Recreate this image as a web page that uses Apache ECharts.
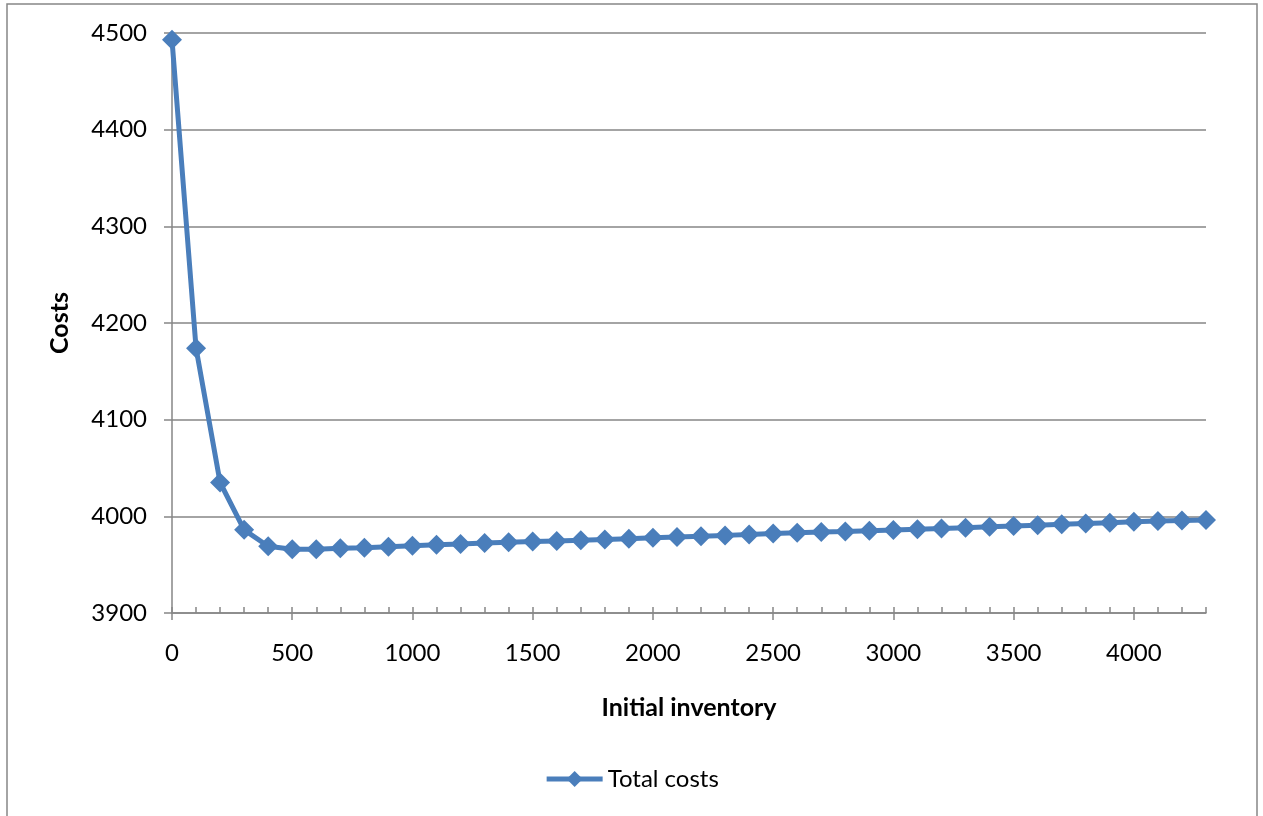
<!DOCTYPE html>
<html>
<head>
<meta charset="utf-8">
<script src="https://cdn.jsdelivr.net/npm/echarts@6/dist/echarts.min.js"></script>
<style>
  html, body { margin: 0; padding: 0; background: #fff; }
  #chart { width: 1263px; height: 816px; }
</style>
</head>
<body>
<div id="chart"></div>
<script>
// initial inventory levels (x) and total costs
const inventory = [0, 100, 200, 300, 400, 500, 600, 700, 800, 900,
  1000, 1100, 1200, 1300, 1400, 1500, 1600, 1700, 1800, 1900,
  2000, 2100, 2200, 2300, 2400, 2500, 2600, 2700, 2800, 2900,
  3000, 3100, 3200, 3300, 3400, 3500, 3600, 3700, 3800, 3900,
  4000, 4100, 4200, 4300]
const totalCosts = [4493, 4174, 4035, 3986, 3969, 3966, 3966, 3967, 3967.5, 3968.5,
  3969.5, 3970.5, 3971.5, 3972.5, 3973.3, 3973.9, 3974.6, 3975.3, 3976, 3976.9,
  3977.8, 3978.6, 3979.5, 3980.3, 3981.3, 3982.2, 3983, 3983.7, 3984.3, 3985.2,
  3985.9, 3986.6, 3987.3, 3988.3, 3989.2, 3990, 3990.9, 3991.7, 3992.7, 3993.4,
  3994.3, 3995.1, 3995.8, 3996.2]
const majorXTicks = [0, 500, 1000, 1500, 2000, 2500, 3000, 3500, 4000]

const font = 'Lato, "Open Sans", sans-serif'
const axisGray = '#868686'
const blue = '#4a7ebb'

const chart = echarts.init(document.getElementById('chart'))
chart.setOption({
  animation: false,
  textStyle: { fontFamily: font },
  graphic: [{
    type: 'rect',
    shape: { x: 7, y: 4, width: 1250, height: 830 },
    style: { fill: 'none', stroke: axisGray, lineWidth: 1.5 },
    silent: true
  }],
  grid: { left: 172, right: 57, top: 33, bottom: 203 },
  legend: {
    bottom: 20,
    left: 'center',
    itemWidth: 56,
    itemHeight: 20,
    textStyle: { fontSize: 24, color: '#000', fontFamily: font },
    lineStyle: { width: 5 },
    data: ['Total costs']
  },
  xAxis: [{
    type: 'value',
    min: 0,
    max: 4300,
    interval: 100,
    name: 'Initial inventory',
    nameLocation: 'middle',
    nameGap: 82,
    nameTextStyle: { fontSize: 25, fontWeight: 'bold', color: '#000', fontFamily: font },
    axisLine: { show: true, lineStyle: { color: axisGray, width: 1.5 } },
    axisTick: { show: true, inside: true, length: 6, lineStyle: { color: axisGray, width: 1.5 } },
    axisLabel: {
      fontSize: 24, color: '#000', margin: 28, fontFamily: font,
      formatter: v => (v % 500 === 0 ? String(v) : '')
    },
    splitLine: { show: false }
  }, {
    type: 'value',
    position: 'bottom',
    min: 0,
    max: 4300,
    interval: 500,
    axisLine: { show: false },
    axisTick: { show: true, length: 7, customValues: majorXTicks, lineStyle: { color: axisGray, width: 1.5 } },
    axisLabel: { show: false },
    splitLine: { show: false }
  }],
  yAxis: {
    type: 'value',
    min: 3900,
    max: 4500,
    interval: 100,
    name: 'Costs',
    nameLocation: 'middle',
    nameGap: 100,
    nameRotate: 90,
    nameTextStyle: { fontSize: 25, fontWeight: 'bold', color: '#000', fontFamily: font },
    axisLine: { show: true, lineStyle: { color: axisGray, width: 1.5 } },
    axisTick: { show: true, length: 8, lineStyle: { color: axisGray, width: 1.5 } },
    axisLabel: { fontSize: 24, color: '#000', margin: 25, fontFamily: font, formatter: v => String(v) },
    splitLine: { show: true, lineStyle: { color: axisGray, width: 1.5 } }
  },
  series: [{
    name: 'Total costs',
    type: 'line',
    xAxisIndex: 0,
    data: inventory.map((x, i) => [x, totalCosts[i]]),
    symbol: 'diamond',
    symbolSize: 20,
    lineStyle: { color: blue, width: 5 },
    itemStyle: { color: blue }
  }]
})
</script>
</body>
</html>
